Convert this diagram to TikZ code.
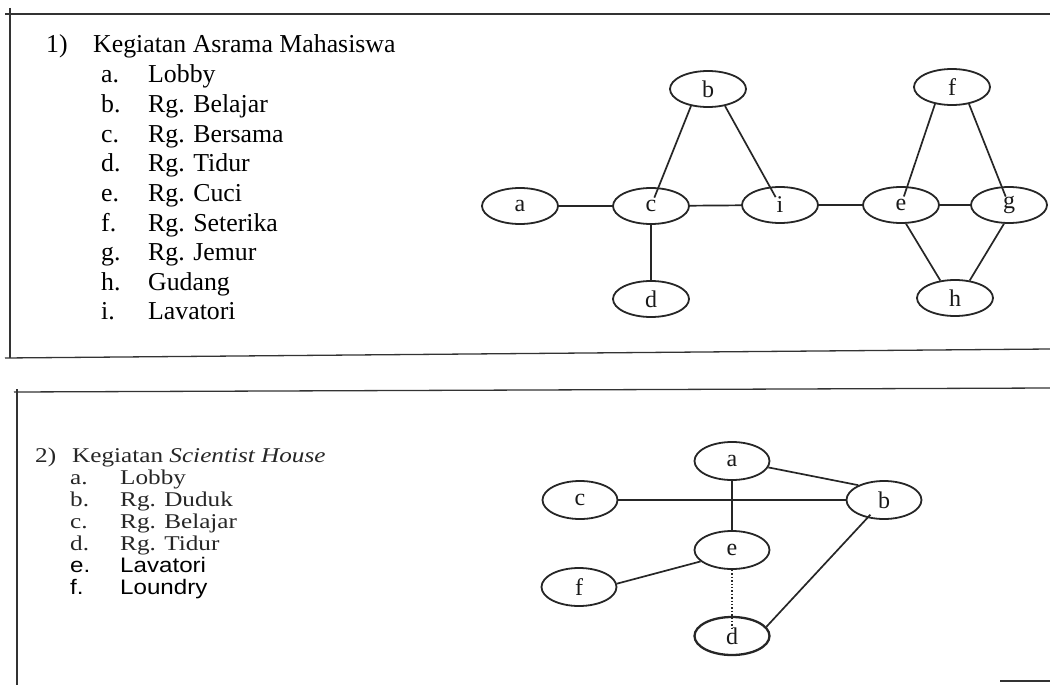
\documentclass[tikz,border=0pt]{standalone}
\usepackage{fontspec}
\setmainfont{Liberation Serif}
\newfontfamily\listserif[FakeStretch=1.2]{Liberation Serif}
\newfontfamily\listsans[FakeStretch=1.15]{Liberation Sans}
\usetikzlibrary{shapes.geometric,calc}
\begin{document}
\begin{tikzpicture}[x=1pt,y=-1pt,
  frame/.style={draw=black!80, line width=1.3pt},
  room/.style={ellipse, draw=black!85, line width=1.8pt, minimum width=76pt,
    minimum height=36pt, inner sep=0pt, text=black!90,
    font=\fontsize{24}{24}\selectfont},
  link/.style={draw=black!85, line width=1.7pt},
  itemA/.style={anchor=base west, inner sep=0pt, text=black,
    font=\fontsize{25.8}{25.8}\selectfont},
  itemB/.style={anchor=base west, inner sep=0pt, text=black!85,
    font=\listserif\fontsize{21}{21}\selectfont},
  itemC/.style={anchor=base west, inner sep=0pt, text=black,
    font=\listsans\fontsize{21}{21}\selectfont}]
\useasboundingbox (0,0) rectangle (1050,685);

% frames of the two sections
\draw[frame] (5,14) -- (1050,14);
\draw[frame] (10,8) -- (10,358);
\draw[frame] (5,358) -- (1050,349);
\draw[frame] (14,392) -- (1050,388);
\draw[frame] (17,389) -- (17,685);
\draw[line width=2pt, black!80] (1000,681) -- (1050,681);

% ---- section 1: list
\node[itemA] (n1) at (46,53) {1)};
\node[itemA] (h1) at (93,53) {Kegiatan Asrama Mahasiswa};
\foreach \l/\t [count=\k from 0] in {a/Lobby, b/Rg. Belajar, c/Rg. Bersama, d/Rg. Tidur,
  e/Rg. Cuci, f/Rg. Seterika, g/Rg. Jemur, h/Gudang, i/Lavatori} {
  \node[itemA] (l1\l) at (101,{83+29.6*\k}) {\l.};
  \node[itemA] (r1\l) at (148,{83+29.6*\k}) {\t};
}

% ---- section 1: graph
\node[room] (a1) at (520,206) {a};
\node[room] (c1) at (651,206) {c};
\node[room] (i1) at (780,205) {i};
\node[room] (e1) at (901,205) {e};
\node[room] (g1) at (1009,205) {g};
\node[room] (b1) at (708,89) {b};
\node[room] (f1) at (952,87) {f};
\node[room] (d1) at (651,299) {d};
\node[room] (h1n) at (955,298) {h};

\draw[link] (a1) -- (c1);
\draw[link] (c1) -- (i1);
\draw[link] (i1) -- (e1);
\draw[link] (e1) -- (g1);
\draw[link] (c1) -- (d1);
\draw[link, shorten >=9pt] (b1.225) -- (c1.center);
\draw[link, shorten >=9pt] (b1.315) -- (i1.center);
\draw[link, shorten >=9pt] (f1.225) -- (e1.center);
\draw[link, shorten >=9pt] (f1.315) -- (g1.center);
\draw[link] (e1.285) -- (h1n.130);
\draw[link] (g1.255) -- (h1n.50);

% ---- section 2: list
\node[itemB] (n2) at (35,462) {2)};
\node[itemB] (h2) at (72,462) {Kegiatan \textit{Scientist House}};
\foreach \l/\t [count=\k from 0] in {a/Lobby, b/Rg. Duduk, c/Rg. Belajar, d/Rg. Tidur} {
  \node[itemB] (l2\l) at (70,{484+22*\k}) {\l.};
  \node[itemB] (r2\l) at (120,{484+22*\k}) {\t};
}
\foreach \l/\t [count=\k from 4] in {e/Lavatori, f/Loundry} {
  \node[itemC] (l2\l) at (70,{484+22*\k}) {\l.};
  \node[itemC] (r2\l) at (120,{484+22*\k}) {\t};
}

% ---- section 2: graph
\tikzset{room2/.style={room, minimum width=75pt, minimum height=38pt}}
\node[room2] (a2) at (732,461) {a};
\node[room2] (c2) at (580,500) {c};
\node[room2] (b2) at (884,500) {b};
\node[room2] (e2) at (732,550) {e};
\node[room2] (f2) at (579,587) {f};
\node[room2, line width=2.3pt] (d2) at (732,636) {d};

\draw[link] (a2.350) -- (b2.150);
\draw[link] (c2) -- (b2);
\draw[link] (a2) -- (e2);
\draw[link] (e2.200) -- (f2.5);
\draw[draw=black!85, line width=1.4pt, dotted, shorten >=8pt] (e2.south) -- (d2.center);
\draw[link, shorten <=20pt] (b2.center) -- (d2.15);
\end{tikzpicture}
\end{document}
